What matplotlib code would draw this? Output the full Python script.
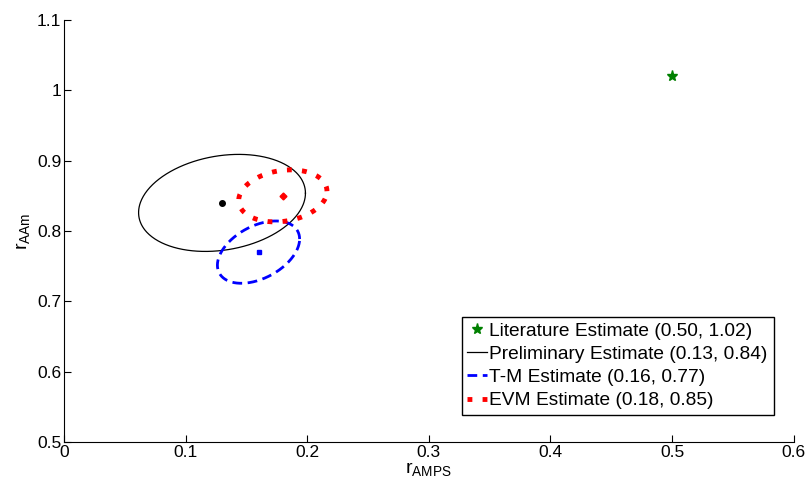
import numpy as np
import matplotlib
matplotlib.use("Agg")
import matplotlib.pyplot as plt

plt.rcParams['font.family'] = ['Liberation Sans', 'DejaVu Sans']
plt.rcParams['mathtext.fontset'] = 'custom'
plt.rcParams['mathtext.rm'] = 'Liberation Sans'

# point estimates (r_AMPS, r_AAm)
names = ['Literature Estimate', 'Preliminary Estimate', 'T-M Estimate', 'EVM Estimate']
r_amps = [0.50, 0.13, 0.16, 0.18]
r_aam = [1.02, 0.84, 0.77, 0.85]

# uncertainty ellipses: half widths in x and y and correlation
# (no ellipse for the literature value)
half_x = [0.0, 0.0686, 0.0338, 0.0363]
half_y = [0.0, 0.0690, 0.0443, 0.0370]
rho = [0.0, 0.20, 0.42, 0.18]

x_ticks = [0, 0.1, 0.2, 0.3, 0.4, 0.5, 0.6]
y_ticks = [0.5, 0.6, 0.7, 0.8, 0.9, 1.0, 1.1]


def ellipse(cx, cy, ax_, ay_, r, n=400):
    t = np.linspace(0, 2*np.pi, n)
    d = np.arccos(r)
    return cx + ax_*np.cos(t), cy + ay_*np.cos(t - d)


fig = plt.figure(figsize=(8.09, 4.90), dpi=100)
ax = fig.add_axes([0.079, 0.098, 0.902, 0.861])

# literature value, star only
ax.plot(r_amps[0], r_aam[0], linestyle='none', marker='*', color='green',
        markersize=8, label='%s (%.2f, %.2f)' % (names[0], r_amps[0], r_aam[0]))

styles = [
    dict(color='black', linewidth=0.9, linestyle='-'),
    dict(color='blue', linewidth=2.0, linestyle=(0, (3.5, 2.0))),
    dict(color='red', linewidth=3.5, linestyle=(0, (1, 2.1))),
]
centre_marks = [('o', 4), ('s', 3.5), ('D', 3.5)]

for i in range(1, 4):
    ex, ey = ellipse(r_amps[i], r_aam[i], half_x[i], half_y[i], rho[i])
    ax.plot(ex, ey, dash_capstyle='butt', **styles[i-1],
            label='%s (%.2f, %.2f)' % (names[i], r_amps[i], r_aam[i]))
    m, ms = centre_marks[i-1]
    ax.plot(r_amps[i], r_aam[i], linestyle='none', marker=m, markersize=ms,
            color=styles[i-1]['color'])

ax.set_xlim(0, 0.6)
ax.set_ylim(0.5, 1.1)
ax.set_xticks(x_ticks)
ax.set_xticklabels(['0', '0.1', '0.2', '0.3', '0.4', '0.5', '0.6'])
ax.set_yticks(y_ticks)
ax.set_yticklabels(['0.5', '0.6', '0.7', '0.8', '0.9', '1', '1.1'])
ax.tick_params(direction='in', length=5, width=0.8, labelsize=12.5, pad=2)
ax.spines['top'].set_visible(False)
ax.spines['right'].set_visible(False)

ax.set_xlabel(r'r$_{\mathregular{AMPS}}$', fontsize=14, labelpad=1)
ax.set_ylabel(r'r$_{\mathregular{AAm}}$', fontsize=14, labelpad=3)

leg = ax.legend(loc='lower left', bbox_to_anchor=(0.545, 0.064), fontsize=13.8,
                frameon=True, fancybox=False, framealpha=1, edgecolor='black',
                handlelength=1.05, handletextpad=0.1, borderpad=0.3,
                labelspacing=0.3, borderaxespad=0)
leg.get_frame().set_linewidth(1.0)

fig.savefig('out.png', dpi=100)
